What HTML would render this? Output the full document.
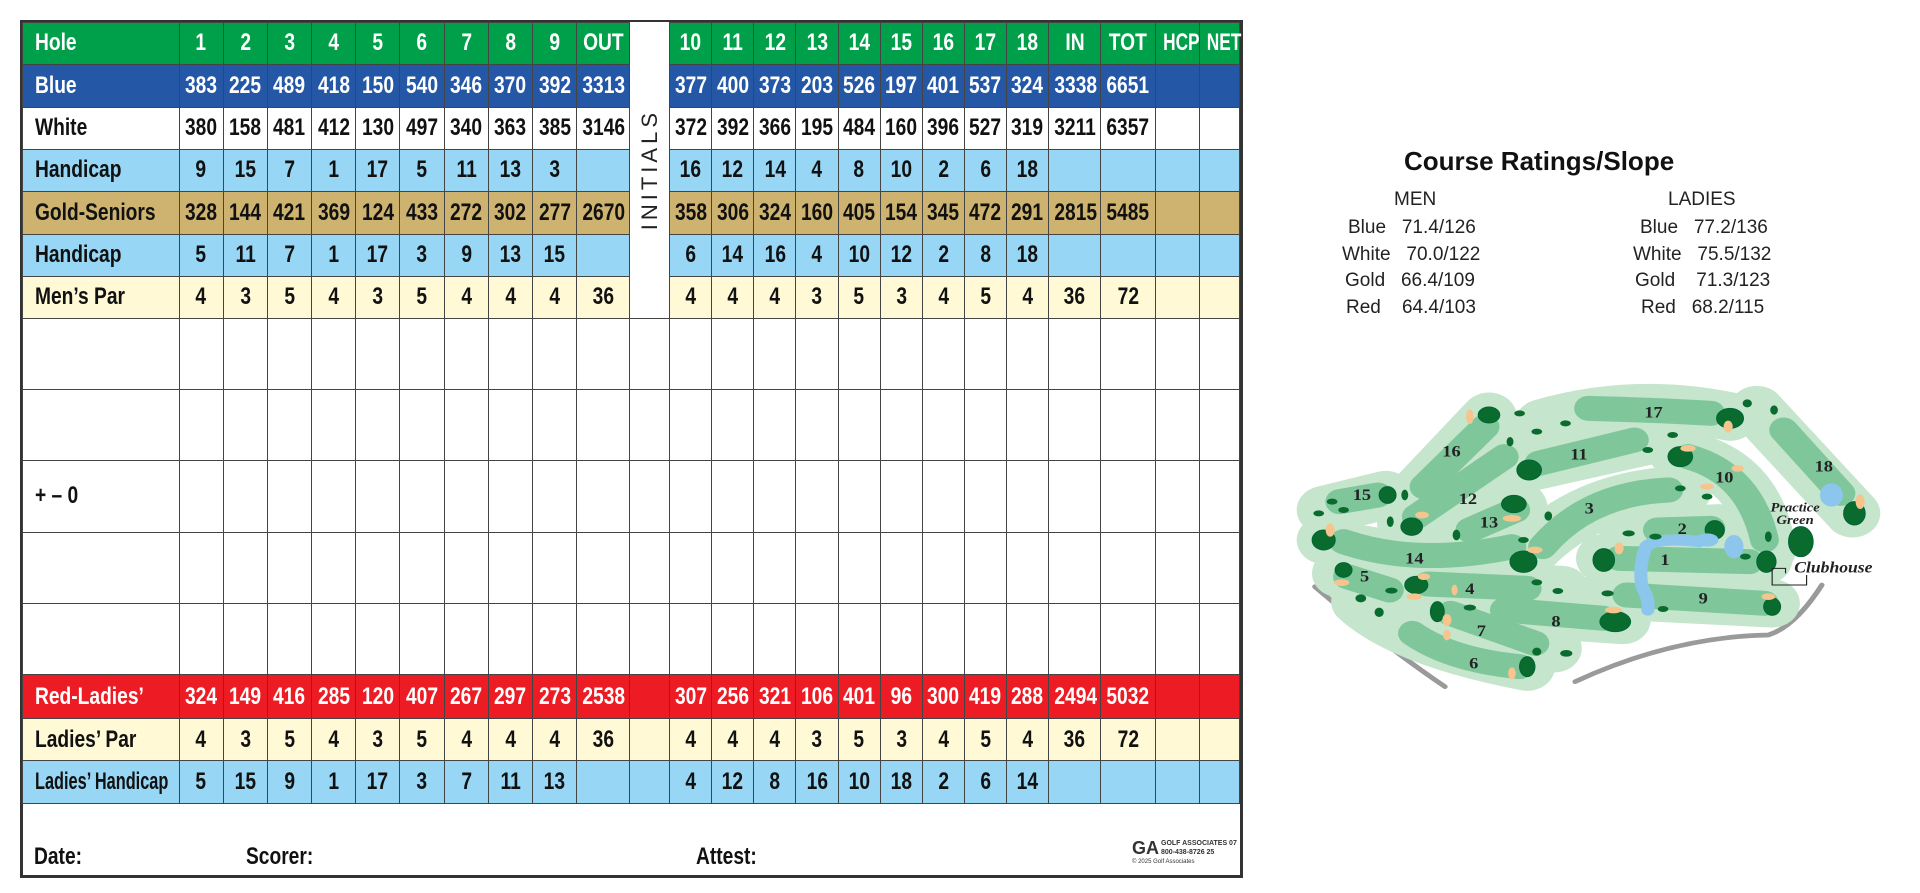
<!DOCTYPE html>
<html><head><meta charset="utf-8"><style>
*{margin:0;padding:0;box-sizing:border-box}
body{width:1920px;height:893px;background:#fff;position:relative;overflow:hidden;font-family:"Liberation Sans Narrow","Liberation Sans",sans-serif}
#card{position:absolute;left:20px;top:20px;width:1223px;height:858px;border:3px solid #333;}
table{position:absolute;left:-1.5px;top:-1.5px;border-collapse:collapse;table-layout:fixed;width:1218px}
td{border:1.5px solid #444;text-align:center;font-weight:bold;font-size:24px;color:#111;padding:0;white-space:nowrap;overflow:visible}
td span{display:inline-block;transform:scaleX(.8)}
td.l{text-align:left;padding-left:12px}
td.l span{transform-origin:left center}
.g td{background:#00a04a;color:#fff}
.b td{background:#2458a6;color:#fff}
.w td{background:#fff}
.h td{background:#97d6f4}
.o td{background:#cdb36f}
.p td{background:#fff9d6}
.r td{background:#ed1c24;color:#fff}
td.ini{background:#fff!important;border-top:none}
.ini div{writing-mode:vertical-rl;transform:rotate(180deg);font-family:"Liberation Sans",sans-serif;font-weight:normal;font-size:22px;letter-spacing:4px;color:#222;margin:0 auto}
.ft{position:absolute;font-weight:bold;font-size:24px;color:#111;transform:scaleX(.8);transform-origin:left}
.rt{position:absolute;font-family:"Liberation Sans",sans-serif;font-size:19px;color:#222;white-space:nowrap}
</style></head><body>
<div id="card">
<table>
<colgroup><col style="width:157px"><col span="9" style="width:44.2px"><col style="width:53px"><col style="width:40px"><col span="9" style="width:42.1px"><col style="width:52.4px"><col style="width:54.3px"><col style="width:44.3px"><col style="width:39.5px"></colgroup>
<tr class="g" style="height:42px"><td class="l"><span>Hole</span></td><td><span>1</span></td><td><span>2</span></td><td><span>3</span></td><td><span>4</span></td><td><span>5</span></td><td><span>6</span></td><td><span>7</span></td><td><span>8</span></td><td><span>9</span></td><td><span>OUT</span></td><td class="ini" rowspan="7"><div>INITIALS</div></td><td><span>10</span></td><td><span>11</span></td><td><span>12</span></td><td><span>13</span></td><td><span>14</span></td><td><span>15</span></td><td><span>16</span></td><td><span>17</span></td><td><span>18</span></td><td><span>IN</span></td><td><span>TOT</span></td><td><span style="transform:scaleX(.72)">HCP</span></td><td><span style="transform:scaleX(.72)">NET</span></td></tr>
<tr class="b" style="height:43px"><td class="l"><span>Blue</span></td><td><span>383</span></td><td><span>225</span></td><td><span>489</span></td><td><span>418</span></td><td><span>150</span></td><td><span>540</span></td><td><span>346</span></td><td><span>370</span></td><td><span>392</span></td><td><span>3313</span></td><td><span>377</span></td><td><span>400</span></td><td><span>373</span></td><td><span>203</span></td><td><span>526</span></td><td><span>197</span></td><td><span>401</span></td><td><span>537</span></td><td><span>324</span></td><td><span>3338</span></td><td><span>6651</span></td><td></td><td></td></tr>
<tr class="w" style="height:42px"><td class="l"><span>White</span></td><td><span>380</span></td><td><span>158</span></td><td><span>481</span></td><td><span>412</span></td><td><span>130</span></td><td><span>497</span></td><td><span>340</span></td><td><span>363</span></td><td><span>385</span></td><td><span>3146</span></td><td><span>372</span></td><td><span>392</span></td><td><span>366</span></td><td><span>195</span></td><td><span>484</span></td><td><span>160</span></td><td><span>396</span></td><td><span>527</span></td><td><span>319</span></td><td><span>3211</span></td><td><span>6357</span></td><td></td><td></td></tr>
<tr class="h" style="height:42px"><td class="l"><span>Handicap</span></td><td><span>9</span></td><td><span>15</span></td><td><span>7</span></td><td><span>1</span></td><td><span>17</span></td><td><span>5</span></td><td><span>11</span></td><td><span>13</span></td><td><span>3</span></td><td></td><td><span>16</span></td><td><span>12</span></td><td><span>14</span></td><td><span>4</span></td><td><span>8</span></td><td><span>10</span></td><td><span>2</span></td><td><span>6</span></td><td><span>18</span></td><td></td><td></td><td></td><td></td></tr>
<tr class="o" style="height:43px"><td class="l"><span>Gold-Seniors</span></td><td><span>328</span></td><td><span>144</span></td><td><span>421</span></td><td><span>369</span></td><td><span>124</span></td><td><span>433</span></td><td><span>272</span></td><td><span>302</span></td><td><span>277</span></td><td><span>2670</span></td><td><span>358</span></td><td><span>306</span></td><td><span>324</span></td><td><span>160</span></td><td><span>405</span></td><td><span>154</span></td><td><span>345</span></td><td><span>472</span></td><td><span>291</span></td><td><span>2815</span></td><td><span>5485</span></td><td></td><td></td></tr>
<tr class="h" style="height:42px"><td class="l"><span>Handicap</span></td><td><span>5</span></td><td><span>11</span></td><td><span>7</span></td><td><span>1</span></td><td><span>17</span></td><td><span>3</span></td><td><span>9</span></td><td><span>13</span></td><td><span>15</span></td><td></td><td><span>6</span></td><td><span>14</span></td><td><span>16</span></td><td><span>4</span></td><td><span>10</span></td><td><span>12</span></td><td><span>2</span></td><td><span>8</span></td><td><span>18</span></td><td></td><td></td><td></td><td></td></tr>
<tr class="p" style="height:42px"><td class="l"><span>Men’s Par</span></td><td><span>4</span></td><td><span>3</span></td><td><span>5</span></td><td><span>4</span></td><td><span>3</span></td><td><span>5</span></td><td><span>4</span></td><td><span>4</span></td><td><span>4</span></td><td><span>36</span></td><td><span>4</span></td><td><span>4</span></td><td><span>4</span></td><td><span>3</span></td><td><span>5</span></td><td><span>3</span></td><td><span>4</span></td><td><span>5</span></td><td><span>4</span></td><td><span>36</span></td><td><span>72</span></td><td></td><td></td></tr>
<tr class="w" style="height:71.4px"><td></td><td></td><td></td><td></td><td></td><td></td><td></td><td></td><td></td><td></td><td></td><td></td><td></td><td></td><td></td><td></td><td></td><td></td><td></td><td></td><td></td><td></td><td></td><td></td><td></td></tr>
<tr class="w" style="height:71.4px"><td></td><td></td><td></td><td></td><td></td><td></td><td></td><td></td><td></td><td></td><td></td><td></td><td></td><td></td><td></td><td></td><td></td><td></td><td></td><td></td><td></td><td></td><td></td><td></td><td></td></tr>
<tr class="w" style="height:71.4px"><td class="l"><span>+ – 0</span></td><td></td><td></td><td></td><td></td><td></td><td></td><td></td><td></td><td></td><td></td><td></td><td></td><td></td><td></td><td></td><td></td><td></td><td></td><td></td><td></td><td></td><td></td><td></td><td></td></tr>
<tr class="w" style="height:71.4px"><td></td><td></td><td></td><td></td><td></td><td></td><td></td><td></td><td></td><td></td><td></td><td></td><td></td><td></td><td></td><td></td><td></td><td></td><td></td><td></td><td></td><td></td><td></td><td></td><td></td></tr>
<tr class="w" style="height:71.4px"><td></td><td></td><td></td><td></td><td></td><td></td><td></td><td></td><td></td><td></td><td></td><td></td><td></td><td></td><td></td><td></td><td></td><td></td><td></td><td></td><td></td><td></td><td></td><td></td><td></td></tr>
<tr class="r" style="height:44px"><td class="l"><span>Red-Ladies’</span></td><td><span>324</span></td><td><span>149</span></td><td><span>416</span></td><td><span>285</span></td><td><span>120</span></td><td><span>407</span></td><td><span>267</span></td><td><span>297</span></td><td><span>273</span></td><td><span>2538</span></td><td></td><td><span>307</span></td><td><span>256</span></td><td><span>321</span></td><td><span>106</span></td><td><span>401</span></td><td><span>96</span></td><td><span>300</span></td><td><span>419</span></td><td><span>288</span></td><td><span>2494</span></td><td><span>5032</span></td><td></td><td></td></tr>
<tr class="p" style="height:42px"><td class="l"><span>Ladies’ Par</span></td><td><span>4</span></td><td><span>3</span></td><td><span>5</span></td><td><span>4</span></td><td><span>3</span></td><td><span>5</span></td><td><span>4</span></td><td><span>4</span></td><td><span>4</span></td><td><span>36</span></td><td></td><td><span>4</span></td><td><span>4</span></td><td><span>4</span></td><td><span>3</span></td><td><span>5</span></td><td><span>3</span></td><td><span>4</span></td><td><span>5</span></td><td><span>4</span></td><td><span>36</span></td><td><span>72</span></td><td></td><td></td></tr>
<tr class="h" style="height:43px"><td class="l"><span style="transform:scaleX(.68)">Ladies’ Handicap</span></td><td><span>5</span></td><td><span>15</span></td><td><span>9</span></td><td><span>1</span></td><td><span>17</span></td><td><span>3</span></td><td><span>7</span></td><td><span>11</span></td><td><span>13</span></td><td></td><td></td><td><span>4</span></td><td><span>12</span></td><td><span>8</span></td><td><span>16</span></td><td><span>10</span></td><td><span>18</span></td><td><span>2</span></td><td><span>6</span></td><td><span>14</span></td><td></td><td></td><td></td><td></td></tr>
</table>
<div class="ft" style="left:11px;top:820px">Date:</div>
<div class="ft" style="left:223px;top:820px">Scorer:</div>
<div class="ft" style="left:673px;top:820px">Attest:</div>
<div style="position:absolute;left:1109px;top:816px;font-size:7px;line-height:9px;color:#333;font-family:'Liberation Sans',sans-serif;font-weight:bold;white-space:nowrap"><span style="font-size:18px;float:left;margin-right:2px;line-height:18px">GA</span>GOLF ASSOCIATES 07<br>800-438-8726 25<br><span style="font-weight:normal;font-size:6px">© 2025 Golf Associates</span></div>
</div>

<div class="rt" style="left:1404px;top:146px;font-weight:bold;font-size:26px;color:#111">Course Ratings/Slope</div>
<div class="rt" style="left:1394px;top:189px">MEN</div>
<div class="rt" style="left:1668px;top:189px">LADIES</div>
<div class="rt" style="left:1348px;top:217px">Blue&nbsp;&nbsp;&nbsp;71.4/126</div>
<div class="rt" style="left:1342px;top:244px">White&nbsp;&nbsp;&nbsp;70.0/122</div>
<div class="rt" style="left:1345px;top:270px">Gold&nbsp;&nbsp;&nbsp;66.4/109</div>
<div class="rt" style="left:1346px;top:297px">Red&nbsp;&nbsp;&nbsp;&nbsp;64.4/103</div>
<div class="rt" style="left:1640px;top:217px">Blue&nbsp;&nbsp;&nbsp;77.2/136</div>
<div class="rt" style="left:1633px;top:244px">White&nbsp;&nbsp;&nbsp;75.5/132</div>
<div class="rt" style="left:1635px;top:270px">Gold&nbsp;&nbsp;&nbsp;&nbsp;71.3/123</div>
<div class="rt" style="left:1641px;top:297px">Red&nbsp;&nbsp;&nbsp;68.2/115</div>

<svg style="position:absolute;left:1290px;top:380px" width="600" height="320" viewBox="0 0 1568 960" preserveAspectRatio="none">
<g fill="none" stroke-linecap="round" stroke-linejoin="round">
<path d="M65,620 Q250,800 405,920" stroke="#9a9a9a" stroke-width="14"/>
<path d="M745,905 Q1000,770 1250,765 Q1320,740 1390,615" stroke="#9a9a9a" stroke-width="14"/>
<g stroke="#c5e5cc" stroke-width="145">
<path d="M660,130 Q900,50 1150,110"/><path d="M630,260 L960,175"/><path d="M330,340 L520,110"/><path d="M300,430 L590,210"/>
<path d="M90,390 L250,345"/><path d="M440,460 L600,380"/><path d="M90,480 Q300,560 600,500"/><path d="M610,540 Q760,340 1030,330"/>
<path d="M1010,220 Q1220,260 1250,510"/><path d="M1220,90 L1470,400"/><path d="M880,455 L1120,445"/><path d="M820,535 L1240,540"/>
<path d="M820,645 L1260,670"/><path d="M130,580 L300,640"/><path d="M330,610 L710,630"/><path d="M550,695 L870,720"/>
<path d="M390,690 L690,805"/><path d="M180,665 Q300,790 620,860"/></g>
<g stroke="#7fc79a" stroke-width="75">
<path d="M780,85 Q950,90 1100,100"/><path d="M650,250 L900,180"/><path d="M350,320 L510,140"/><path d="M330,410 L560,230"/>
<path d="M130,365 L230,345"/><path d="M470,450 L590,390"/><path d="M140,485 Q330,560 580,500"/><path d="M660,500 Q780,340 990,330"/>
<path d="M1040,230 Q1200,280 1240,480"/><path d="M1290,150 L1440,340"/><path d="M960,450 L1100,445"/><path d="M860,535 L1200,545"/>
<path d="M880,645 L1240,670"/><path d="M150,590 L260,630"/><path d="M360,612 L620,625"/><path d="M560,690 L820,715"/>
<path d="M420,700 L640,790"/><path d="M320,760 Q420,840 600,860"/></g>
<path d="M930,500 Q960,470 1070,485 M930,500 Q910,560 920,620 Q940,660 935,690" stroke="#8dc6ec" stroke-width="34"/>
</g>
<g fill="#0a6b2e" stroke="#063" stroke-width="3">
<ellipse cx="520" cy="105" rx="28" ry="24"/><ellipse cx="1150" cy="115" rx="35" ry="30"/><ellipse cx="625" cy="270" rx="32" ry="30"/>
<ellipse cx="1020" cy="230" rx="32" ry="30"/><ellipse cx="255" cy="345" rx="22" ry="25"/><ellipse cx="585" cy="372" rx="32" ry="26"/>
<ellipse cx="318" cy="440" rx="28" ry="26"/><ellipse cx="88" cy="480" rx="30" ry="30"/><ellipse cx="610" cy="545" rx="35" ry="32"/>
<ellipse cx="1110" cy="450" rx="25" ry="28"/><ellipse cx="820" cy="540" rx="28" ry="34"/><ellipse cx="1245" cy="545" rx="25" ry="32"/>
<ellipse cx="1335" cy="485" rx="32" ry="45"/><ellipse cx="1475" cy="400" rx="28" ry="35"/><ellipse cx="1260" cy="680" rx="22" ry="26"/>
<ellipse cx="140" cy="570" rx="22" ry="22"/><ellipse cx="330" cy="615" rx="30" ry="26"/><ellipse cx="850" cy="725" rx="40" ry="30"/>
<ellipse cx="385" cy="695" rx="18" ry="30"/><ellipse cx="620" cy="860" rx="20" ry="30"/></g>
<g fill="#f6c58f"><ellipse cx="470" cy="110" rx="10" ry="22"/><ellipse cx="1145" cy="140" rx="12" ry="18"/><ellipse cx="1040" cy="205" rx="20" ry="10"/><ellipse cx="1170" cy="265" rx="16" ry="10"/><ellipse cx="1090" cy="320" rx="18" ry="9"/><ellipse cx="580" cy="415" rx="24" ry="10"/><ellipse cx="345" cy="405" rx="18" ry="10"/><ellipse cx="105" cy="450" rx="12" ry="20"/><ellipse cx="640" cy="510" rx="20" ry="10"/><ellipse cx="860" cy="505" rx="12" ry="18"/><ellipse cx="1490" cy="365" rx="12" ry="22"/><ellipse cx="1250" cy="650" rx="18" ry="10"/><ellipse cx="135" cy="608" rx="20" ry="10"/><ellipse cx="350" cy="590" rx="16" ry="10"/><ellipse cx="325" cy="650" rx="20" ry="10"/><ellipse cx="430" cy="630" rx="8" ry="16"/><ellipse cx="410" cy="720" rx="12" ry="18"/><ellipse cx="410" cy="765" rx="10" ry="16"/><ellipse cx="845" cy="690" rx="22" ry="10"/><ellipse cx="580" cy="880" rx="10" ry="18"/></g>
<g fill="#8dc6ec"><ellipse cx="1415" cy="345" rx="30" ry="35"/><ellipse cx="1090" cy="480" rx="30" ry="20"/><ellipse cx="1160" cy="500" rx="25" ry="35"/></g>
<g fill="#0a6b2e"><ellipse cx="600" cy="100" rx="14" ry="9"/><ellipse cx="720" cy="130" rx="14" ry="9"/><ellipse cx="645" cy="155" rx="14" ry="9"/><ellipse cx="575" cy="185" rx="9" ry="14"/><ellipse cx="1000" cy="165" rx="14" ry="9"/><ellipse cx="935" cy="210" rx="14" ry="9"/><ellipse cx="1195" cy="70" rx="12" ry="12"/><ellipse cx="1265" cy="90" rx="10" ry="14"/><ellipse cx="300" cy="345" rx="9" ry="16"/><ellipse cx="262" cy="425" rx="9" ry="16"/><ellipse cx="1020" cy="325" rx="14" ry="9"/><ellipse cx="1090" cy="350" rx="14" ry="9"/><ellipse cx="675" cy="408" rx="10" ry="14"/><ellipse cx="435" cy="465" rx="10" ry="16"/><ellipse cx="610" cy="480" rx="14" ry="9"/><ellipse cx="885" cy="460" rx="16" ry="9"/><ellipse cx="955" cy="470" rx="16" ry="9"/><ellipse cx="1190" cy="530" rx="14" ry="9"/><ellipse cx="1250" cy="470" rx="9" ry="16"/><ellipse cx="830" cy="640" rx="16" ry="9"/><ellipse cx="975" cy="687" rx="14" ry="9"/><ellipse cx="75" cy="400" rx="14" ry="9"/><ellipse cx="110" cy="365" rx="14" ry="9"/><ellipse cx="140" cy="390" rx="14" ry="9"/><ellipse cx="265" cy="632" rx="16" ry="9"/><ellipse cx="185" cy="655" rx="14" ry="12"/><ellipse cx="233" cy="697" rx="12" ry="14"/><ellipse cx="470" cy="683" rx="16" ry="9"/><ellipse cx="645" cy="607" rx="14" ry="9"/><ellipse cx="700" cy="633" rx="14" ry="9"/><ellipse cx="645" cy="815" rx="12" ry="12"/><ellipse cx="722" cy="820" rx="16" ry="10"/></g>
<g font-family="Liberation Serif,serif" font-weight="bold" font-size="48" fill="#222" text-anchor="middle">
<text x="950" y="112">17</text><text x="755" y="238">11</text><text x="422" y="230">16</text><text x="1135" y="308">10</text><text x="1395" y="275">18</text>
<text x="188" y="360">15</text><text x="465" y="372">12</text><text x="520" y="442">13</text><text x="782" y="400">3</text><text x="1025" y="462">2</text>
<text x="980" y="555">1</text><text x="325" y="550">14</text><text x="195" y="605">5</text><text x="470" y="642">4</text><text x="1080" y="670">9</text>
<text x="695" y="740">8</text><text x="500" y="768">7</text><text x="480" y="866">6</text></g>
<g font-family="Liberation Serif,serif" font-weight="bold" font-style="italic" fill="#222" text-anchor="middle">
<text x="1320" y="395" font-size="38">Practice</text><text x="1320" y="432" font-size="38">Green</text>
<text x="1420" y="578" font-size="46">Clubhouse</text></g>
<path d="M1260,565 L1260,615 L1350,615 L1350,585" fill="none" stroke="#222" stroke-width="3"/>
<path d="M1260,565 L1295,565 L1295,580" fill="none" stroke="#222" stroke-width="3"/>
</svg>
</body></html>
